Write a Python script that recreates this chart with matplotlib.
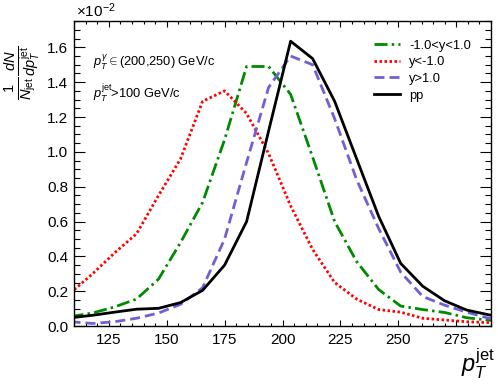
import numpy as np
import matplotlib.pyplot as plt
from matplotlib.ticker import MultipleLocator

plt.rcParams['font.family'] = ['Liberation Sans', 'DejaVu Sans']
plt.rcParams['mathtext.fontset'] = 'custom'
plt.rcParams['mathtext.rm'] = 'Liberation Sans'
plt.rcParams['mathtext.it'] = 'Liberation Sans:italic'
plt.rcParams['mathtext.bf'] = 'Liberation Sans:bold'

# jet pT points (GeV/c)
pt = [108.5, 118, 127.5, 137, 146.5, 156, 165.5, 175, 184.5, 194, 203.5,
      213, 222.5, 232, 241.5, 251, 260.5, 270, 279.5, 289, 298.5]

# normalised yields, in units of 1e-2
mid_y = [0.055, 0.075, 0.11, 0.155, 0.27, 0.48, 0.71, 1.07, 1.49, 1.49, 1.33,
         0.97, 0.60, 0.37, 0.21, 0.115, 0.095, 0.078, 0.048, 0.034, 0.03]
bwd_y = [0.19, 0.30, 0.42, 0.53, 0.75, 0.96, 1.29, 1.35, 1.22, 0.99, 0.69,
         0.44, 0.25, 0.155, 0.095, 0.08, 0.045, 0.035, 0.025, 0.02, 0.018]
fwd_y = [0.025, 0.015, 0.025, 0.045, 0.075, 0.125, 0.22, 0.50, 0.94, 1.37, 1.55,
         1.50, 1.19, 0.84, 0.56, 0.31, 0.17, 0.12, 0.08, 0.045, 0.03]
pp = [0.048, 0.062, 0.08, 0.097, 0.102, 0.135, 0.205, 0.35, 0.60, 1.12, 1.635,
      1.535, 1.29, 0.96, 0.63, 0.36, 0.229, 0.145, 0.092, 0.065, 0.045]

labels = ['-1.0<y<1.0', 'y<-1.0', 'y>1.0', 'pp']

fig = plt.figure(figsize=(4.98, 3.85), dpi=100)
ax = fig.add_axes([0.1486, 0.153, 0.8374, 0.792])

lw = 2.0
ax.plot(pt, mid_y, color='#008a00', lw=lw, dashes=(4.7, 1.5, 0.9, 1.5), label=labels[0])
ax.plot(pt, bwd_y, color='#ff0000', lw=lw, dashes=(0.9, 0.9), label=labels[1])
ax.plot(pt, fwd_y, color='#7060d8', lw=lw, dashes=(3.6, 1.8), label=labels[2])
ax.plot(pt, pp, color='black', lw=lw, label=labels[3])

ax.set_xlim(110, 290)
ax.set_ylim(0, 1.75)
ax.xaxis.set_major_locator(MultipleLocator(25))
ax.xaxis.set_minor_locator(MultipleLocator(5))
ax.yaxis.set_major_locator(MultipleLocator(0.2))
ax.yaxis.set_minor_locator(MultipleLocator(0.05))
ax.yaxis.set_major_formatter(plt.FuncFormatter(lambda v, p: f'{v:.1f}'))

ax.tick_params(axis='both', which='both', direction='in', top=True, right=True,
               labelsize=11, width=0.8)
ax.tick_params(axis='x', which='major', length=4.5, pad=5)
ax.tick_params(axis='x', which='minor', length=2.3)
ax.tick_params(axis='y', which='major', length=8, pad=4)
ax.tick_params(axis='y', which='minor', length=4)
for s in ax.spines.values():
    s.set_linewidth(1.0)

ax.text(0.004, 1.005, r'$\times$10$^{-2}$', transform=ax.transAxes,
        fontsize=11, ha='left', va='bottom')

ax.text(-0.122, 0.92, r'$\frac{1}{N_{\rm jet}}\frac{dN}{dp_{T}^{\rm jet}}$',
        transform=ax.transAxes, rotation=90, fontsize=15, ha='center', va='top')

fig.text(0.995, 0.01, r'$p_{T}^{\rm jet}$', fontsize=17, ha='right', va='bottom')

ax.text(0.045, 0.866, r'$p_{T}^{\gamma}\in$(200,250) GeV/c', transform=ax.transAxes,
        fontsize=9.3, ha='left', va='center')
ax.text(0.045, 0.764, r'$p_{T}^{\rm jet}$>100 GeV/c', transform=ax.transAxes,
        fontsize=9.3, ha='left', va='center')

ax.legend(loc='upper left', bbox_to_anchor=(0.719, 0.94), frameon=False,
          fontsize=9.3, handlelength=2.0, handletextpad=0.75, labelspacing=0.36,
          borderpad=0, borderaxespad=0)

fig.savefig('out.png', dpi=100)
